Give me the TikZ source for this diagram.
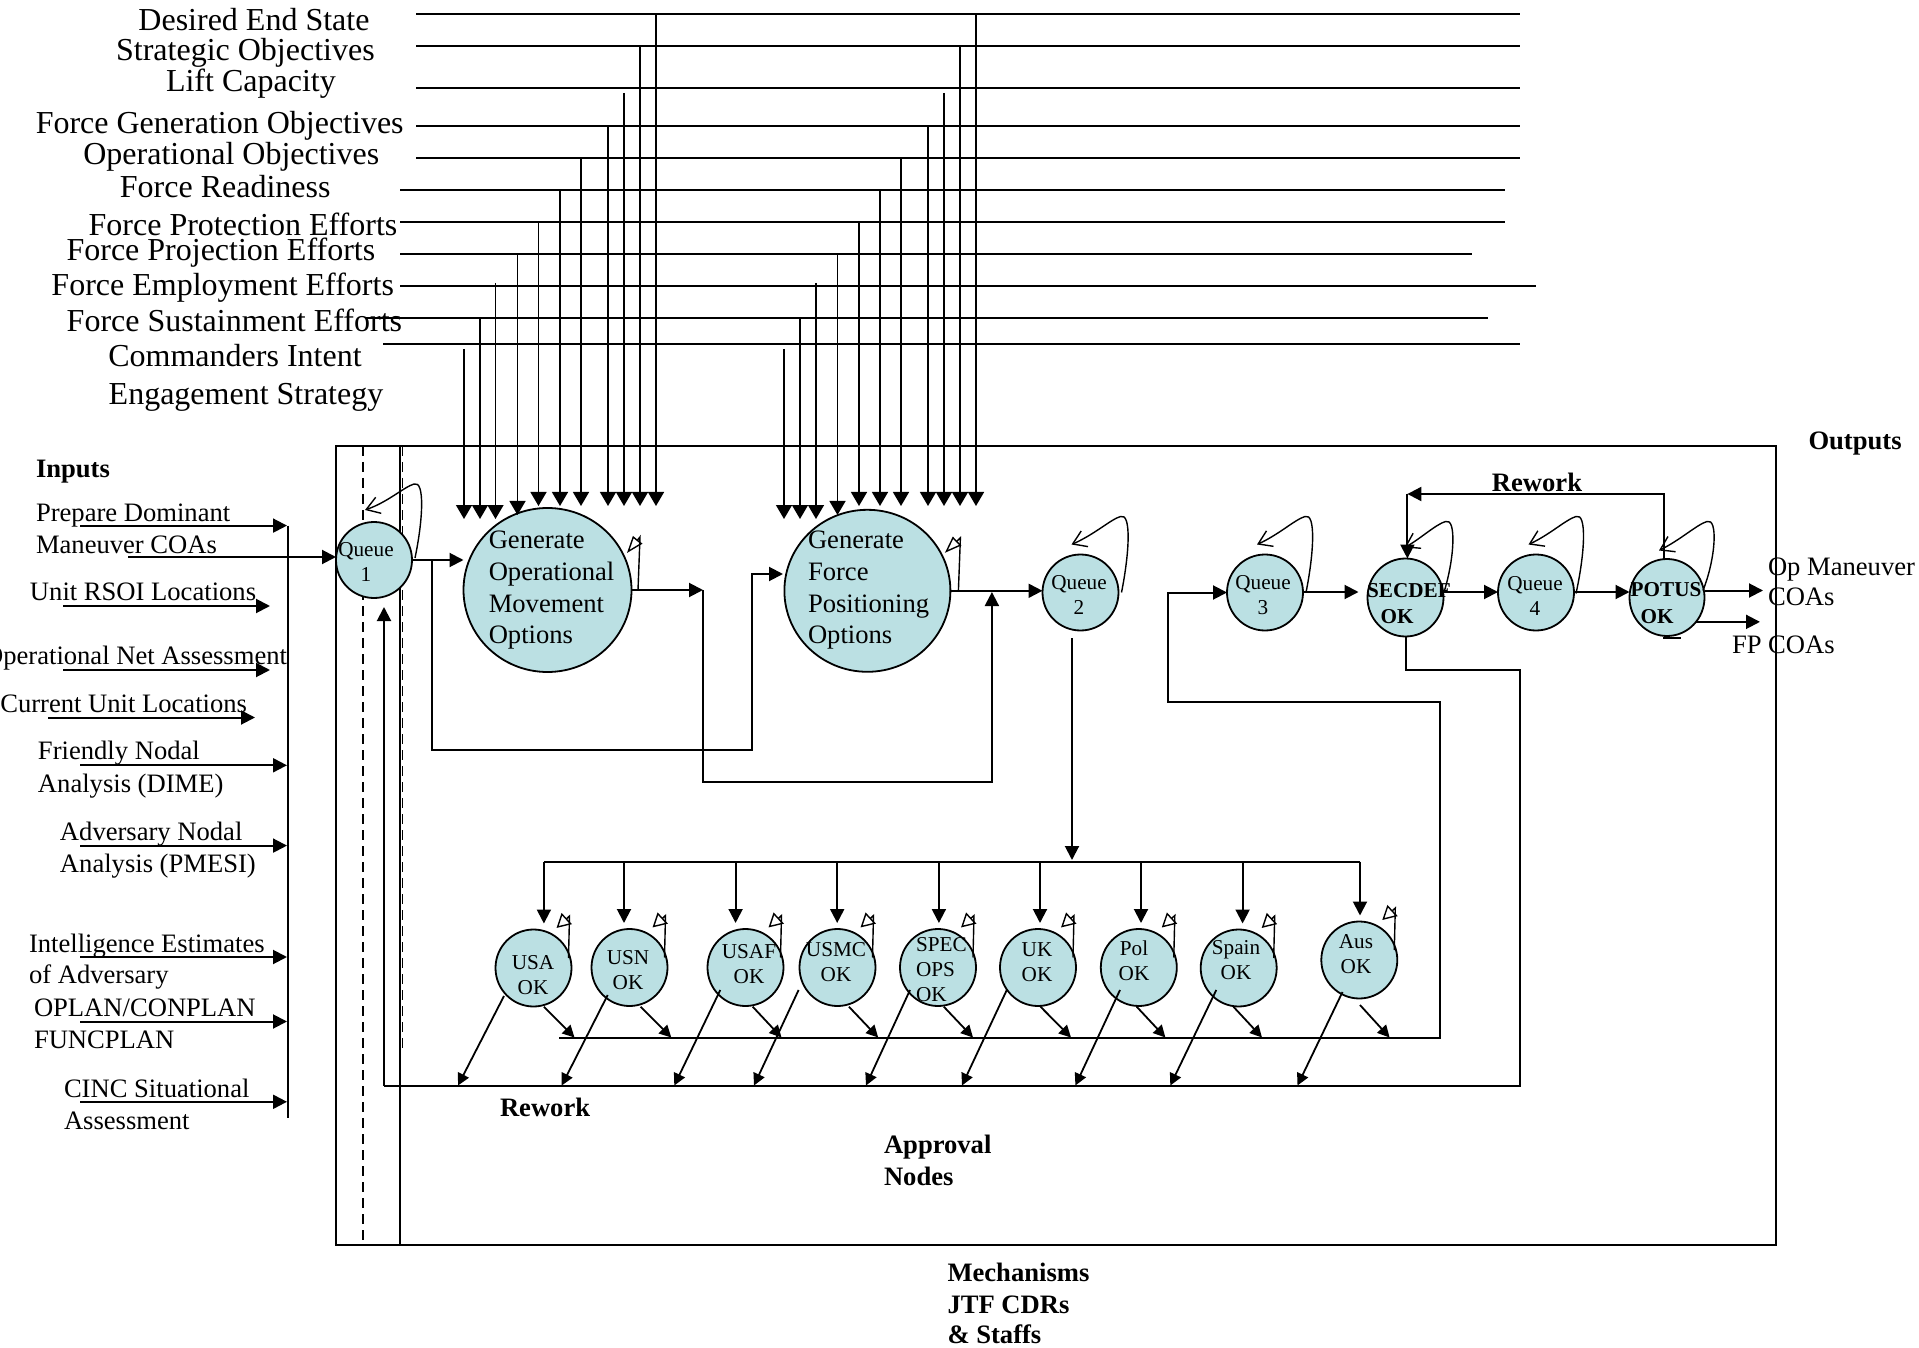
\documentclass[tikz,border=0pt]{standalone}
\usepackage{fontspec}
\setmainfont{Liberation Serif}
\usetikzlibrary{arrows.meta,shapes.geometric,calc}
\definecolor{nodefill}{RGB}{187,224,227}
\newcommand{\qself}[5]{%
 \draw[loopbarb] ($(#1)+(#2,#3)$) .. controls ($(#1)+(49,-40)$) and ($(#1)+(51,-80)$) .. ($(#1)+(40,-76)$) .. controls ($(#1)+(30,-73)$) and ($(#1)+(14,-58)$) .. ($(#1)+(#4,#5)$);}
\begin{document}
\begin{tikzpicture}[x=0.5pt,y=-0.5pt,
  every node/.style={inner sep=0pt, outer sep=0pt},
  ln/.style={line width=1pt},
  hl/.style={line width=0.9pt},
  arr/.style={line width=1pt,-{Triangle[length=7pt,width=7pt]}},
  sarr/.style={line width=0.9pt,-{Triangle[length=6pt,width=6pt]}},
  varr/.style={line width=0.75pt,-{Triangle[length=7pt,width=8pt]}},
  loopbarb/.style={line width=0.7pt,-{Straight Barb[length=6.5pt,width=8.5pt]}},
  looptri/.style={line width=0.7pt,-{Triangle[open,length=7pt,width=7.5pt]}},
  looptrib/.style={line width=0.7pt,-{Triangle[open,length=8.5pt,width=6pt]}},
  proc/.style={ellipse, draw, line width=0.9pt, fill=nodefill},
  toplab/.style={font=\fontsize{16pt}{19pt}\selectfont, anchor=base},
  inlab/.style={font=\fontsize{13.3pt}{16pt}\selectfont, anchor=base west},
  midtxt/.style={font=\fontsize{13.3pt}{16pt}\selectfont, anchor=base west},
  smalltxt/.style={font=\fontsize{10.6pt}{12.5pt}\selectfont, align=center},
  smallbold/.style={font=\bfseries\fontsize{10.6pt}{12.5pt}\selectfont},
  boldlab/.style={font=\bfseries\fontsize{13.3pt}{16pt}\selectfont, anchor=base west},
]
\useasboundingbox (0,0) rectangle (1919,1348);

% ---------- top labels ----------
\node[toplab] (t1) at (254,30.7) {Desired End State};
\node[toplab] (t2) at (245.4,60.7) {Strategic Objectives};
\node[toplab] (t3) at (250.9,91.7) {Lift Capacity};
\node[toplab] (t4) at (219.7,134) {Force Generation Objectives};
\node[toplab] (t5) at (231.3,165) {Operational Objectives};
\node[toplab] (t6) at (225.2,197.3) {Force Readiness};
\node[toplab] (t7) at (243,236) {Force Protection Efforts};
\node[toplab] (t8) at (220.9,260.7) {Force Projection Efforts};
\node[toplab] (t9) at (222.7,296) {Force Employment Efforts};
\node[toplab] (t10) at (234.4,331.7) {Force Sustainment Efforts};
\node[toplab] (t11) at (235,366.7) {Commanders Intent};
\node[toplab] (t12) at (246,405) {Engagement Strategy};

% ---------- main box ----------
\node[draw, line width=1pt, minimum width=720pt, minimum height=399.5pt, anchor=north west] (box) at (336,446) {};
\coordinate (d1t) at (362.7,446); \coordinate (d1b) at (362.7,1245);
\draw[line width=0.8pt, dash pattern=on 5pt off 3pt] (d1t) -- (d1b);
\coordinate (d2t) at (402.5,446); \coordinate (d2b) at (402.5,1050);
\draw[line width=0.8pt, dash pattern=on 5pt off 3pt] (d2t) -- (d2b);
\coordinate (s1t) at (400,446); \coordinate (s1b) at (400,1245);
\draw[line width=0.9pt] (s1t) -- (s1b);

% ---------- process nodes ----------
\node[proc, minimum width=38pt, minimum height=38pt] (q1) at (374,560) {};
\node[proc, minimum width=84pt, minimum height=82pt] (genop) at (547.5,590) {};
\node[proc, minimum width=83pt, minimum height=81pt] (gf) at (867.4,590.8) {};
\node[proc, minimum width=38pt, minimum height=38pt] (q2) at (1080.5,592.5) {};
\node[proc, minimum width=38pt, minimum height=38pt] (q3) at (1265,592.5) {};
\node[proc, minimum width=38pt, minimum height=39pt] (secdef) at (1405.5,597.5) {};
\node[proc, minimum width=38pt, minimum height=38pt] (q4) at (1536,592.5) {};
\node[proc, minimum width=37.5pt, minimum height=38.5pt] (potus) at (1667,597.5) {};

\node[smalltxt] (q1t) at (366,561.5) {Queue\\1};
\node[smalltxt] (q2t) at (1079,595) {Queue\\2};
\node[smalltxt] (q3t) at (1263,595) {Queue\\3};
\node[smalltxt] (q4t) at (1535,595.5) {Queue\\4};
\node[smallbold] (secdeft) at (1409,591) {SECDEF};
\node[smallbold] (secdefok) at (1397,617) {OK};
\node[smallbold] (potust) at (1666,590) {POTUS};
\node[smallbold] (potusok) at (1657,617) {OK};

\node[midtxt] (go1t) at (488.75,548) {Generate};
\node[midtxt] (go2t) at (488.75,580) {Operational};
\node[midtxt] (go3t) at (488.75,612) {Movement};
\node[midtxt] (go4t) at (488.75,643) {Options};
\node[midtxt] (gf1t) at (808,548) {Generate};
\node[midtxt] (gf2t) at (808,580) {Force};
\node[midtxt] (gf3t) at (808,612) {Positioning};
\node[midtxt] (gf4t) at (808,643) {Options};

% ---------- approval nodes ----------
\foreach \n/\cx/\cy in {usa/533.5/968, usn/629.5/967.5, usaf/745.5/967.5, usmc/837.5/967.5, spec/938/967.5, uk/1038/967.5, pol/1138.8/967.5, spain/1238.7/968, aus/1359.3/960}
  \node[proc, minimum width=38pt, minimum height=38.5pt] (\n) at (\cx,\cy) {};
\node[smalltxt] (usat) at (533,975.5) {USA\\OK};
\node[smalltxt] (usnt) at (628,970) {USN\\OK};
\node[smalltxt] (usaft) at (749,964.2) {USAF\\OK};
\node[smalltxt] (usmct) at (836,961.7) {USMC\\OK};
\node[smalltxt, align=left, anchor=west] (spect) at (916,970) {SPEC\\OPS\\OK};
\node[smalltxt] (ukt) at (1037,961.7) {UK\\OK};
\node[smalltxt] (polt) at (1134,961) {Pol\\OK};
\node[smalltxt] (spaint) at (1236,960) {Spain\\OK};
\node[smalltxt] (aust) at (1356,954) {Aus\\OK};

% ---------- top input lines ----------
\foreach \i/\y/\xa/\xb in {1/14/416/1520,2/45.7/416/1520,3/88.3/416/1520,4/126/416/1520,5/157.7/416/1520,6/190/400/1505,7/221.7/400/1505,8/254/400/1472,9/285.7/400/1536,10/317.7/366/1488,11/344.3/383/1520}
 {\coordinate (hs\i) at (\xa,\y); \coordinate (he\i) at (\xb,\y); \draw[hl] (hs\i) -- (he\i);}
\foreach \i/\x/\yt/\yb in {
 a1/464/349/519, a2/480/318/519, a3/495.5/283/519, a4/517.5/254/515, a5/538.5/222/506, a6/560/190/506, a7/581/158/506, a8/608/126/506, a9/624/93/506, a10/640/45.7/506, a11/656/14/506,
 b1/784/349/519, b2/800/318/519, b3/816/283/519, b4/837.5/254/515, b5/859/222/506, b6/880/190/506, b7/901/158/506, b8/928/126/506, b9/944/93/506, b10/960/45.7/506, b11/976/14/506}
 {\coordinate (vs\i) at (\x,\yt); \coordinate (ve\i) at (\x,\yb); \draw[varr] (vs\i) -- (ve\i);}

% ---------- inputs ----------
\node[boldlab] (inputs) at (36,478) {Inputs};
\node[inlab] (i1a) at (36,522) {Prepare Dominant};
\node[inlab] (i1b) at (36,553) {Maneuver COAs};
\node[inlab] (i2) at (30,600.4) {Unit RSOI Locations};
\node[inlab, anchor=base east] (i3) at (287,664.7) {Operational Net Assessment};
\node[inlab, anchor=base east] (i4) at (247,712.5) {Current Unit Locations};
\node[inlab] (i5a) at (38,759.8) {Friendly Nodal};
\node[inlab] (i5b) at (38,792.8) {Analysis (DIME)};
\node[inlab] (i6a) at (60,840) {Adversary Nodal};
\node[inlab] (i6b) at (60,872) {Analysis (PMESI)};
\node[inlab] (i7a) at (29,952.6) {Intelligence Estimates};
\node[inlab] (i7b) at (29,983.8) {of Adversary};
\node[inlab] (i8a) at (34,1016) {OPLAN/CONPLAN};
\node[inlab] (i8b) at (34,1048) {FUNCPLAN};
\node[inlab] (i9a) at (64,1097) {CINC Situational};
\node[inlab] (i9b) at (64,1129) {Assessment};

\coordinate (bart) at (288,525.6); \coordinate (barb) at (288,1118);
\draw[ln] (bart) -- (barb);
\foreach \i/\y/\xa/\xb in {1/525.6/80/287, 3/606/63/270, 4/670/63/270, 5/717.5/48/255, 6/765.3/80/287, 7/845.6/80/287, 8/957/80/287, 9/1021.5/80/287, 10/1101.8/80/287}
 {\coordinate (ins\i) at (\xa,\y); \coordinate (ine\i) at (\xb,\y); \draw[arr] (ins\i) -- (ine\i);}
\coordinate (in2) at (128,557);
\draw[arr] (in2) -- (in2 -| q1.west);

% ---------- main flow ----------
\draw[arr] (q1.east) -- (q1.east -| genop.west);
\coordinate (br0) at (431.7,560); \coordinate (br1) at (752,750); \coordinate (br2) at (783,574);
\draw[arr] (br0) |- (br1) |- (br2);
\coordinate (go1) at (703,590); \coordinate (go2) at (991.9,781.7); \coordinate (go3) at (991.9,592);
\draw[arr] (genop.east) -- (go1);
\draw[arr] (go1) |- (go2) -- (go3);
\draw[arr] (gf.east) -- (gf.east -| q2.west);

% distribution to approval nodes
\coordinate (q2d) at (1072,638); \coordinate (bus) at (1072,860);
\draw[arr] (q2d) -- (bus);
\coordinate (busL) at (543.9,861.7); \coordinate (busR) at (1360,861.7);
\draw[ln] (busL) -- (busR);
\foreach \n/\x in {usa/543.9, usn/624, usaf/735.6, usmc/837.2, spec/938.9, uk/1040, pol/1141, spain/1242.6, aus/1360}
 {\coordinate (b\n) at (\x,861.7); \draw[arr, shorten >=3pt] (b\n) -- (b\n |- \n.north);}

% approval self loops
\foreach \n in {usa,usn,usaf,usmc,spec,uk,pol,spain,aus}
 \draw[looptri] ($(\n)+(35,-10)$) -- ($(\n)+(36,-52)$) -- ($(\n)+(23,-40)$);

% approval -> upper bus
\foreach \i/\xa/\ya/\xb in {1/543.9/1006.7/574.5, 2/640.6/1006.7/671.3, 3/752.7/1006.7/781.5, 4/848.9/1006.7/878.2, 5/943.8/1006.7/973, 6/1040.5/1006.7/1071, 7/1136.7/1006.7/1165.4, 8/1233.4/1006.7/1262, 9/1360/1005/1389.6}
 {\coordinate (ds\i) at (\xa,\ya); \coordinate (de\i) at (\xb,1037.5); \draw[sarr] (ds\i) -- (de\i);}
% approval -> rework bus
\foreach \i/\xa/\ya/\xb in {1/504/996/458, 2/607.7/995/561.7, 3/720.3/990/674.3, 4/798.6/990/754, 5/910/990/866, 6/1006.8/990/962, 7/1120/990/1075.4, 8/1216.3/990/1170.3, 9/1342.5/992/1297.5}
 {\coordinate (rs\i) at (\xa,\ya); \coordinate (re\i) at (\xb,1085.5); \draw[sarr] (rs\i) -- (re\i);}

% upper bus back to queue 3
\coordinate (ub0) at (559,1037.5); \coordinate (ub1) at (1440,1037.5); \coordinate (ub2) at (1167.7,701.7);
\draw[arr] (ub0) -- (ub1) |- (ub2) |- (q3.west);

% lower rework bus from SECDEF back to queue 1
\coordinate (lb1) at (1520,670); \coordinate (lb2) at (1520,1085.5); \coordinate (lb3) at (384,1085.5);
\draw[ln] (secdef.south) |- (lb1) -- (lb2) -- (lb3);
\draw[arr, shorten >=4.5pt] (lb3) -- (lb3 |- q1.south);

% right chain
\coordinate (r) at (0,592);
\draw[arr, shorten >=4.5pt] (q3.east |- r) -- (secdef.west |- r);
\draw[arr] (secdef.east |- r) -- (q4.west |- r);
\draw[arr] (q4.east |- r) -- (potus.west |- r);
\coordinate (o1) at (1763,590.5);
\draw[arr] (potus.east |- o1) -- (o1);
\coordinate (o2) at (1760,621.5);
\draw[arr] (potus.-40) -- (potus.-40 -| o2);
\coordinate (pd1) at (1663,638); \coordinate (pd2) at (1681,638);
\draw[ln] (pd1) -- (pd2);

% top rework
\coordinate (rwR) at (1664,494); \coordinate (rwL) at (1407.4,494);
\draw[arr] (rwR |- potus.north) -- (rwR) -- (rwL);
\draw[arr] (rwL) -- (rwL |- secdef.north);
\node[font=\bfseries\fontsize{13.3pt}{16pt}\selectfont, anchor=base] (rwtop) at (1537,492) {Rework};

% self loops of queues
\qself{q1}{41}{-2}{-9}{-50}
\qself{q2}{41}{0}{-9}{-48}
\qself{q3}{41}{0}{-8}{-48}
\qself{q4}{40}{1}{-7.5}{-48}
\qself{secdef}{39}{-7}{-1}{-50}
\qself{potus}{36}{-7}{-8}{-47}
\draw[looptrib] ($(genop)+(90.5,0)$) -- ($(genop)+(92.5,-53)$) -- ($(genop)+(79.5,-37)$);
\draw[looptrib] ($(gf)+(91,0)$) -- ($(gf)+(93,-53)$) -- ($(gf)+(77.5,-38)$);

% ---------- other labels ----------
\node[boldlab] (outputs) at (1808.5,450) {Outputs};
\node[inlab] (om1) at (1768,575) {Op Maneuver};
\node[inlab] (om2) at (1768,605) {COAs};
\node[inlab] (fp) at (1732,653) {FP COAs};
\node[boldlab] (rwbot) at (500,1116) {Rework};
\node[boldlab] (ap1) at (884,1153) {Approval};
\node[boldlab] (ap2) at (884,1185) {Nodes};
\node[boldlab] (me1) at (947.5,1281.5) {Mechanisms};
\node[boldlab] (me2) at (947.5,1313) {JTF CDRs};
\node[boldlab] (me3) at (947.5,1343.5) {\& Staffs};
\end{tikzpicture}
\end{document}
